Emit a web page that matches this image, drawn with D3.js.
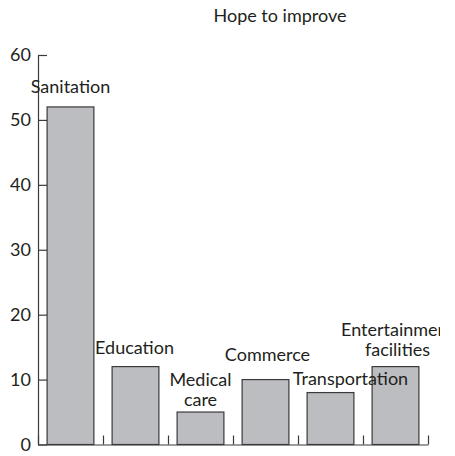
<!DOCTYPE html>
<html><head><meta charset="utf-8">
<script src="https://cdn.jsdelivr.net/npm/d3@7"></script>
<style>
body{margin:0;background:#fff}
text{font-family:Lato,"Noto Sans",sans-serif;fill:#231f20}
</style>
</head><body>
<svg id="chart" width="455" height="456"></svg>
<script>
// ---- data ----
const categories = ["Sanitation", "Education", "Medical care", "Commerce", "Transportation", "Entertainment facilities"];
const values = [52, 12, 5, 10, 8, 12];
const labelLines = [["Sanitation"], ["Education"], ["Medical", "care"], ["Commerce"], ["Transportation"], ["Entertainment", "facilities"]];
const yTicks = [0, 10, 20, 30, 40, 50, 60];
const title = "Hope to improve";

// ---- layout (label placement tweaks) ----
const labelDx = [0, -1, 0, 2, 20, 2];
const labelGap = [14, 13, 6, 19, 8, 11];

const svg = d3.select("#chart");
const fontSize = 18;
const ink = "#3a3a3a";

const y = d3.scaleLinear().domain([0, 60]).range([444.5, 55]);
const x = d3.scaleBand().domain(categories).range([38, 428]).paddingInner(0.28).paddingOuter(0.14);
const xEdge = d3.scaleLinear().domain([0, categories.length]).range([38, 428]);

svg.append("defs").append("clipPath").attr("id", "clip")
  .append("rect").attr("x", 0).attr("y", 0).attr("width", 440).attr("height", 456);

// title
svg.append("text").attr("x", 280).attr("y", 22).attr("text-anchor", "middle")
  .style("font-size", fontSize + "px").text(title);

// bars
svg.append("g").selectAll("rect").data(categories).join("rect")
  .attr("x", d => x(d)).attr("width", x.bandwidth())
  .attr("y", (d, i) => y(values[i])).attr("height", (d, i) => y(0) - y(values[i]))
  .attr("fill", "#bcbdc0").attr("stroke", ink).attr("stroke-width", 1.2);

// y axis
const ya = svg.append("g").attr("transform", "translate(38,0)")
  .call(d3.axisLeft(y).tickValues(yTicks).tickSize(-9).tickSizeOuter(0).tickPadding(7));
ya.selectAll("path,line").attr("stroke", ink).attr("stroke-width", 1.2);
ya.selectAll("text").style("font-size", fontSize + "px").style("font-family", "Lato,'Noto Sans',sans-serif").attr("fill", "#231f20");

// x axis
const xa = svg.append("g").attr("transform", "translate(0,444.5)")
  .call(d3.axisBottom(xEdge).tickValues(d3.range(categories.length + 1)).tickSize(-9).tickSizeOuter(0).tickFormat(""));
xa.selectAll("path,line").attr("stroke", ink).attr("stroke-width", 1.2);

// labels
const lg = svg.append("g").attr("clip-path", "url(#clip)");
categories.forEach((c, i) => {
  const lines = labelLines[i];
  const cx = x(c) + x.bandwidth() / 2 + labelDx[i];
  const baseY = y(values[i]) - labelGap[i];
  const t = lg.append("text").attr("text-anchor", "middle").style("font-size", fontSize + "px");
  lines.forEach((ln, j) => {
    t.append("tspan").attr("x", cx).attr("y", baseY - (lines.length - 1 - j) * 20).text(ln);
  });
});
</script>
</body></html>
